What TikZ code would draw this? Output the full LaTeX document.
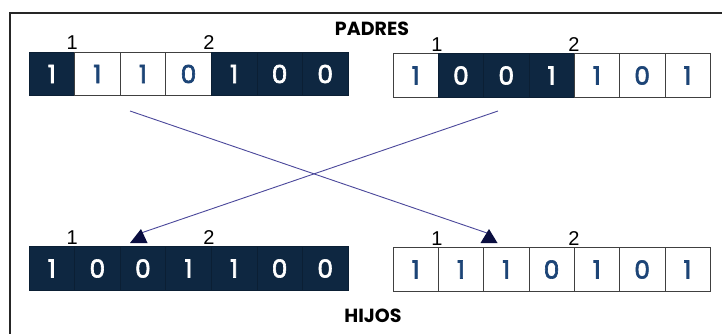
\documentclass[tikz,border=0pt]{standalone}
\usepackage{fontspec}
\setmainfont{Liberation Sans}
\newfontfamily\geo[FakeBold=2.5]{Poppins}
\newfontfamily\geobold{Poppins Bold}
\definecolor{navy}{RGB}{14,39,65}
\definecolor{digblue}{RGB}{28,68,118}
\definecolor{linecol}{RGB}{75,72,155}
\definecolor{tipcol}{RGB}{10,14,64}
\begin{document}
\begin{tikzpicture}[x=1pt,y=-1pt,
  darkcell/.style={draw=navy!80!black,fill=navy,line width=0.6pt,minimum width=45.5pt,minimum height=43.5pt,inner sep=0,text=white,font=\geo\fontsize{25}{25}\selectfont},
  lightcell/.style={draw=black!75,fill=white,line width=0.6pt,minimum width=45.5pt,minimum height=43.5pt,inner sep=0,text=digblue,font=\geo\fontsize{25}{25}\selectfont},
  cutlabel/.style={anchor=south,inner sep=0,font=\fontsize{20}{20}\selectfont},
  title/.style={font=\geobold\fontsize{19}{19}\selectfont},
  cross/.style={draw=linecol,line width=0.9pt},
  tip/.style={fill=tipcol}]
\useasboundingbox (0,0) rectangle (722,334);
\fill[white] (0,0) rectangle (722,334);
\draw[line width=2pt,black!85] (10,334) -- (10,13) -- (722,13);
% titles
\node[title] (padres) at (372,29) {PADRES};
\node[title] (hijos) at (373,316) {HIJOS};
\def\cw{45.57}
% top-left
\foreach \d/\s [count=\i from 0] in {1/darkcell,1/lightcell,1/lightcell,0/lightcell,1/darkcell,0/darkcell,0/darkcell}{
  \node[\s] (tl\i) at ({29+\cw*\i+\cw/2},74) {\d};}
% top-right
\foreach \d/\s [count=\i from 0] in {1/lightcell,0/darkcell,0/darkcell,1/darkcell,1/lightcell,0/lightcell,1/lightcell}{
  \node[\s,minimum width=45.3pt] (tr\i) at ({393+45.3*\i+22.65},75.5) {\d};}
% bottom-left
\foreach \d/\s [count=\i from 0] in {1/darkcell,0/darkcell,0/darkcell,1/darkcell,1/darkcell,0/darkcell,0/darkcell}{
  \node[\s] (bl\i) at ({29+\cw*\i+\cw/2},268.5) {\d};}
% bottom-right
\foreach \d/\s [count=\i from 0] in {1/lightcell,1/lightcell,1/lightcell,0/lightcell,1/lightcell,0/lightcell,1/lightcell}{
  \node[\s,minimum width=45.3pt] (br\i) at ({393+45.3*\i+22.65},269.5) {\d};}
% cut labels
\node[cutlabel] (l1a) at ([xshift=-2pt,yshift=2pt]tl1.north west) {1};
\node[cutlabel] (l2a) at ([xshift=-2pt,yshift=2pt]tl4.north west) {2};
\node[cutlabel] (l1b) at ([xshift=-1pt,yshift=2pt]tr1.north west) {1};
\node[cutlabel] (l2b) at ([xshift=0pt,yshift=2pt]tr4.north west) {2};
\node[cutlabel] (l1c) at ([xshift=-2pt,yshift=2pt]bl1.north west) {1};
\node[cutlabel] (l2c) at ([xshift=-2pt,yshift=2pt]bl4.north west) {2};
\node[cutlabel] (l1d) at ([xshift=-1pt,yshift=2pt]br1.north west) {1};
\node[cutlabel] (l2d) at ([xshift=0pt,yshift=2pt]br4.north west) {2};
% crossing connectors
\coordinate (s1) at (130,111);
\coordinate (e1) at (487,233);
\coordinate (s2) at (498,111);
\coordinate (e2) at (141,233);
\draw[cross] (s1) -- (e1);
\draw[cross] (s2) -- (e2);
\fill[tip] (489,229) -- (497.5,243) -- (480.5,243) -- cycle;
\fill[tip] (141,229) -- (147.5,243) -- (130,243) -- cycle;
\end{tikzpicture}
\end{document}
